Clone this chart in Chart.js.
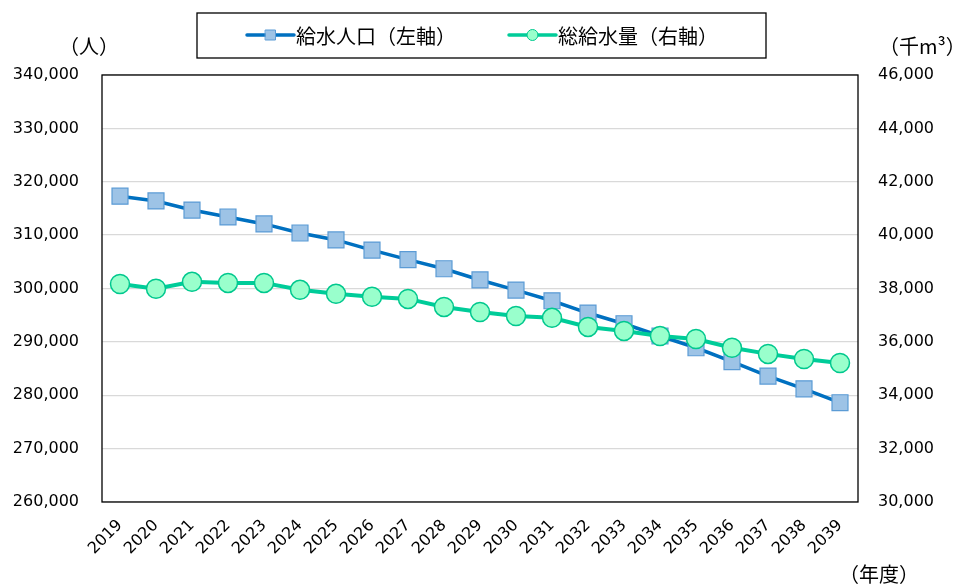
<!DOCTYPE html>
<html lang="ja">
<head>
<meta charset="utf-8">
<title>給水人口と総給水量</title>
<script src="https://cdn.jsdelivr.net/npm/chart.js@4.4.1/dist/chart.umd.min.js"></script>
<style>
  html, body { margin: 0; padding: 0; background: #fff; }
  #wrap { width: 959px; height: 587px; position: relative; }
</style>
</head>
<body>
<div id="wrap"><canvas id="chart"></canvas></div>
<script>
// ---- data ----
const years = ['2019', '2020', '2021', '2022', '2023', '2024', '2025', '2026', '2027', '2028',
    '2029', '2030', '2031', '2032', '2033', '2034', '2035', '2036', '2037', '2038', '2039'];

// 給水人口 (人), left axis
const population = [317300, 316400, 314700, 313400, 312100, 310400, 309100, 307200, 305400, 303700,
    301600, 299700, 297700, 295400, 293400, 291100, 288900, 286300, 283600, 281200, 278600];

// 総給水量 (千m3), right axis
const supplyVolume = [38170, 37990, 38250, 38210, 38210, 37950, 37800, 37690, 37610, 37310,
    37120, 36970, 36900, 36560, 36410, 36220, 36110, 35780, 35550, 35360, 35210];

const leftTicks = { min: 260000, max: 340000, step: 10000 };
const rightTicks = { min: 30000, max: 46000, step: 2000 };

const seriesNames = ['給水人口（左軸）', '総給水量（右軸）'];
const unitLabels = { left: '（人）', right: '（千m³）', bottom: '（年度）' };

// ---- styles ----
const BLUE_LINE = '#0070C0';
const BLUE_FILL = '#9DC3E6';
const BLUE_EDGE = '#5B9BD5';
const GREEN_LINE = '#00CC99';
const GREEN_FILL = '#99FFCC';
const GREEN_EDGE = '#00C88E';

const numFont = 'DejaVu Sans, Liberation Sans, sans-serif';
const jpFont = '"Noto Sans CJK JP", "Noto Sans CJK SC", sans-serif';

const fmt = v => v.toLocaleString('en-US');

// frame, unit captions and boxed legend
const decorations = {
    id: 'decorations',
    afterDraw(chart) {
        const { ctx, chartArea: a } = chart;
        ctx.save();
        ctx.strokeStyle = '#000';
        ctx.lineWidth = 1.3;
        ctx.strokeRect(a.left, a.top, a.right - a.left, a.bottom - a.top);

        ctx.fillStyle = '#000';
        ctx.font = '20px ' + jpFont;
        ctx.textBaseline = 'middle';
        ctx.textAlign = 'center';
        ctx.fillText(unitLabels.left, 89, 46);
        ctx.fillText(unitLabels.bottom, 879, 574);
        ctx.textAlign = 'left';
        ctx.fillText(unitLabels.right, 879, 46);

        // legend box
        ctx.strokeStyle = '#000';
        ctx.lineWidth = 1.3;
        ctx.strokeRect(197, 13, 569, 45);

        const items = [
            { x0: 247, x1: 294, color: BLUE_LINE, fill: BLUE_FILL, edge: BLUE_EDGE, shape: 'rect', text: seriesNames[0] },
            { x0: 509, x1: 556, color: GREEN_LINE, fill: GREEN_FILL, edge: GREEN_EDGE, shape: 'circle', text: seriesNames[1] }
        ];
        const y = 35;
        items.forEach(it => {
            ctx.strokeStyle = it.color;
            ctx.lineWidth = 3.5;
            ctx.lineCap = 'round';
            ctx.beginPath();
            ctx.moveTo(it.x0, y);
            ctx.lineTo(it.x1, y);
            ctx.stroke();
            const cx = (it.x0 + it.x1) / 2;
            ctx.fillStyle = it.fill;
            ctx.strokeStyle = it.edge;
            ctx.lineWidth = 1;
            ctx.beginPath();
            if (it.shape === 'rect') ctx.rect(cx - 5, y - 5, 10, 10);
            else ctx.arc(cx, y, 5.5, 0, Math.PI * 2);
            ctx.fill();
            ctx.stroke();
            ctx.fillStyle = '#000';
            ctx.font = '20px ' + jpFont;
            ctx.textAlign = 'left';
            ctx.fillText(it.text, it.x1 + 2, y + 1);
        });
        ctx.restore();
    }
};

new Chart(document.getElementById('chart'), {
    type: 'line',
    data: {
        labels: years,
        datasets: [
            {
                label: seriesNames[0],
                data: population,
                yAxisID: 'y',
                order: 2,
                borderColor: BLUE_LINE,
                borderWidth: 3.5,
                pointStyle: 'rect',
                pointRadius: 11.3,
                pointBackgroundColor: BLUE_FILL,
                pointBorderColor: BLUE_EDGE,
                pointBorderWidth: 1.2,
                tension: 0
            },
            {
                label: seriesNames[1],
                data: supplyVolume,
                yAxisID: 'y1',
                order: 1,
                borderColor: GREEN_LINE,
                borderWidth: 4,
                pointStyle: 'circle',
                pointRadius: 9.5,
                pointBackgroundColor: GREEN_FILL,
                pointBorderColor: GREEN_EDGE,
                pointBorderWidth: 1.5,
                tension: 0
            }
        ]
    },
    options: {
        responsive: true,
        maintainAspectRatio: false,
        animation: false,
        layout: { padding: { top: 75, left: 0, right: 0, bottom: 0 } },
        plugins: { legend: { display: false }, tooltip: { enabled: false } },
        scales: {
            x: {
                offset: true,
                grid: { display: false, drawTicks: false },
                border: { display: false },
                ticks: {
                    autoSkip: false, minRotation: 45, maxRotation: 45,
                    padding: 14, color: '#000', font: { family: numFont, size: 16 }
                },
                afterFit(scale) { scale.height = 85; }
            },
            y: {
                position: 'left',
                min: leftTicks.min, max: leftTicks.max,
                grid: { color: '#D9D9D9', lineWidth: 1.3, drawTicks: false },
                border: { display: false },
                ticks: {
                    stepSize: leftTicks.step, padding: 23, color: '#000',
                    font: { family: numFont, size: 16 }, callback: v => fmt(v)
                },
                afterFit(scale) { scale.width = 102; }
            },
            y1: {
                position: 'right',
                min: rightTicks.min, max: rightTicks.max,
                grid: { display: false, drawTicks: false },
                border: { display: false },
                ticks: {
                    stepSize: rightTicks.step, padding: 20, color: '#000',
                    font: { family: numFont, size: 16 }, callback: v => fmt(v)
                },
                afterFit(scale) { scale.width = 101; }
            }
        }
    },
    plugins: [decorations]
});
</script>
</body>
</html>
